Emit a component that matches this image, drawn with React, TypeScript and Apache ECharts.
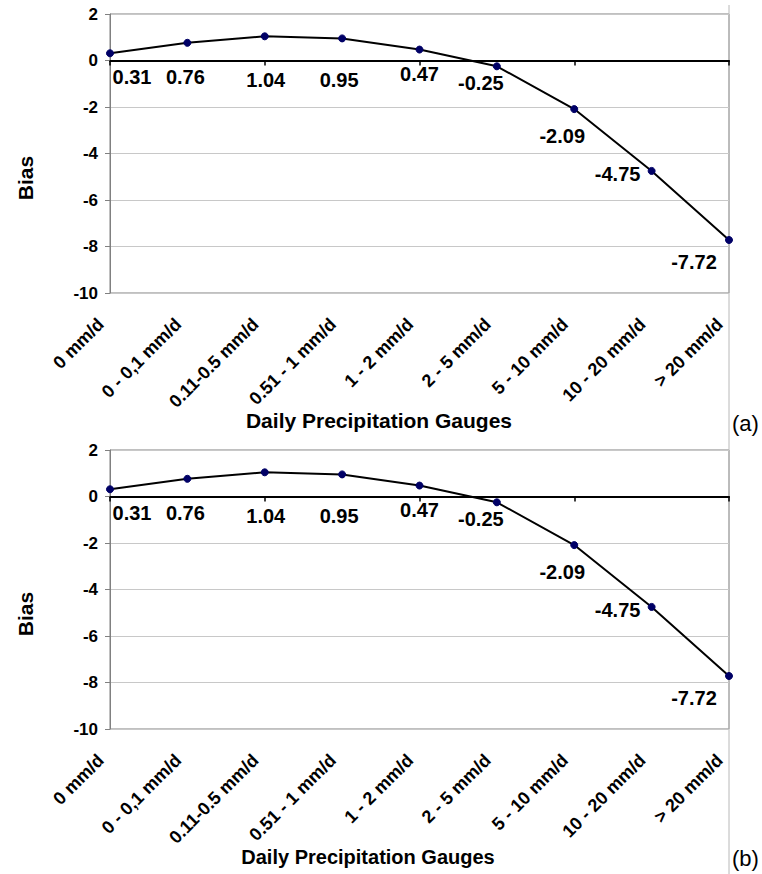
import React, { useEffect, useRef } from "react";
import * as echarts from "echarts";

const categories = [
  "0 mm/d",
  "0 - 0,1 mm/d",
  "0.11-0.5 mm/d",
  "0.51 - 1 mm/d",
  "1 - 2 mm/d",
  "2 - 5 mm/d",
  "5 - 10 mm/d",
  "10 - 20 mm/d",
  "> 20 mm/d",
];
const biasA = [0.31, 0.76, 1.04, 0.95, 0.47, -0.25, -2.09, -4.75, -7.72];
const biasB = [0.31, 0.76, 1.04, 0.95, 0.47, -0.25, -2.09, -4.75, -7.72];
const yTicks = { min: -10, max: 2, interval: 2 };
const panelLetters = ["(a)", "(b)"];
const xTitle = "Daily Precipitation Gauges";
const yTitle = "Bias";

// label offsets (dx, dy) relative to each point's centre
const labelOffsets: [number, number][] = [
  [22, 24],
  [-2, 34],
  [1, 44],
  [-3, 42],
  [0, 24],
  [-16, 17],
  [-12, 27],
  [-34, 3],
  [-35, 22],
];

const FONT = "'Liberation Sans', Arial, Helvetica, sans-serif";

export default function App() {
  const ref = useRef<HTMLDivElement>(null);
  useEffect(() => {
    if (!ref.current) return;
    const chart = echarts.init(ref.current, undefined, { renderer: "svg" });
    const grids = [
      { left: 110, top: 14, width: 619, height: 279, show: true, borderColor: "#808080", borderWidth: 1, backgroundColor: "transparent" },
      { left: 110, top: 450, width: 619, height: 279, show: true, borderColor: "#808080", borderWidth: 1, backgroundColor: "transparent" },
    ];
    const xAxes: any[] = [];
    const yAxes: any[] = [];
    const series: any[] = [];
    const datasets = [biasA, biasB];
    grids.forEach((_, gi) => {
      xAxes.push({
        type: "category",
        gridIndex: gi,
        data: categories,
        boundaryGap: false,
        axisLine: { show: true, onZero: true, lineStyle: { color: "#000", width: 2 } },
        axisTick: { show: true, inside: false, length: 5, lineStyle: { color: "#000", width: 1.5 } },
        axisLabel: { show: false },
        splitLine: { show: false },
      });
      xAxes.push({
        type: "category",
        gridIndex: gi,
        data: categories,
        boundaryGap: false,
        position: "bottom",
        axisLine: { show: false, onZero: false },
        axisTick: { show: false },
        axisLabel: {
          show: true,
          rotate: 45,
          margin: 19,
          interval: 0,
          padding: [0, 13, 0, 0],
          color: "#000",
          fontSize: 18,
          fontWeight: "bold",
          fontFamily: FONT,
        },
        splitLine: { show: false },
      });
      yAxes.push({
        type: "value",
        gridIndex: gi,
        min: yTicks.min,
        max: yTicks.max,
        interval: yTicks.interval,
        axisLine: { show: true, lineStyle: { color: "#808080", width: 1 } },
        axisTick: { show: true, inside: false, length: 5, lineStyle: { color: "#808080" } },
        axisLabel: { color: "#000", fontSize: 17, fontWeight: "bold", fontFamily: FONT, margin: 12 },
        splitLine: { show: true, lineStyle: { color: "#c8c8c8", width: 1 } },
      });
      series.push({
        type: "line",
        xAxisIndex: gi * 2,
        yAxisIndex: gi,
        data: datasets[gi].map((v, i) => ({
          value: v,
          label: { offset: labelOffsets[i] },
        })),
        symbol: "circle",
        symbolSize: 7,
        itemStyle: { color: "#000066", borderColor: "#000066" },
        lineStyle: { color: "#000", width: 2 },
        label: {
          show: true,
          position: "inside",
          align: "center",
          verticalAlign: "middle",
          color: "#000",
          fontSize: 20,
          fontWeight: "bold",
          fontFamily: FONT,
          formatter: (p: any) => String(p.value),
        },
        z: 5,
      });
    });

    const panelDy = 436;
    const graphic: any[] = [
      {
        type: "line",
        shape: { x1: 729, y1: 5, x2: 729, y2: 874 },
        style: { stroke: "#b8b8b8", lineWidth: 1 },
        silent: true,
      },
    ];
    [0, 1].forEach((pi) => {
      const dy = pi * panelDy;
      graphic.push({
        type: "text",
        x: 25,
        y: 178 + dy,
        rotation: Math.PI / 2,
        style: {
          text: yTitle,
          font: `bold 21px ${FONT}`,
          fill: "#000",
          textAlign: "center",
          textVerticalAlign: "middle",
        },
      });
      graphic.push({
        type: "text",
        x: pi === 0 ? 379 : 368,
        y: 420 + (pi === 0 ? 0 : 437),
        style: {
          text: xTitle,
          font: `bold ${pi === 0 ? 21 : 20}px ${FONT}`,
          fill: "#000",
          textAlign: "center",
          textVerticalAlign: "middle",
        },
      });
      graphic.push({
        type: "text",
        x: 732,
        y: 423 + (pi === 0 ? 0 : 435),
        style: {
          text: panelLetters[pi],
          font: `22px ${FONT}`,
          fill: "#000",
          textAlign: "left",
          textVerticalAlign: "middle",
        },
      });
    });

    chart.setOption({
      animation: false,
      backgroundColor: "#fff",
      grid: grids,
      xAxis: xAxes,
      yAxis: yAxes,
      series,
      graphic,
    });
    return () => chart.dispose();
  }, []);
  return (
    <div
      ref={ref}
      style={{ position: "fixed", left: 0, top: 0, width: 762, height: 874, background: "#fff" }}
    />
  );
}
